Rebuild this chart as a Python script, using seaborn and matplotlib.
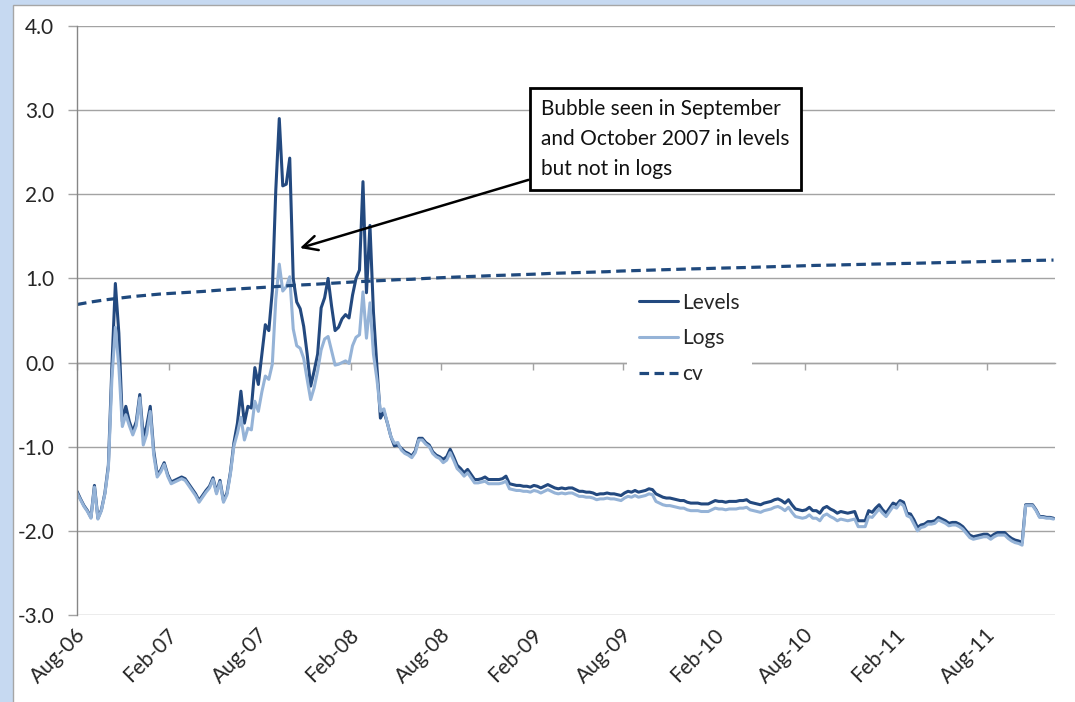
import numpy as np
import pandas as pd
import matplotlib.pyplot as plt
import matplotlib.dates as mdates
import matplotlib.patches as mpatches
import matplotlib.transforms as mtransforms
import seaborn as sns

# weekly series, starting 1 Aug 2006
levels = [
    -1.53, -1.62, -1.70, -1.76, -1.84, -1.46, -1.85, -1.75, -1.55, -1.22,
    -0.05, 0.94, 0.35, -0.70, -0.52, -0.70, -0.82, -0.70, -0.38, -0.88,
    -0.75, -0.52, -1.05, -1.33, -1.28, -1.19, -1.33, -1.42, -1.40, -1.38,
    -1.36, -1.38, -1.44, -1.50, -1.56, -1.64, -1.58, -1.52, -1.47, -1.37,
    -1.54, -1.40, -1.64, -1.55, -1.30, -0.95, -0.72, -0.34, -0.72, -0.52,
    -0.54, -0.06, -0.26, 0.10, 0.45, 0.38, 0.85, 2.05, 2.90, 2.10,
    2.12, 2.43, 1.00, 0.72, 0.64, 0.43, 0.10, -0.28, -0.10, 0.10,
    0.65, 0.77, 1.00, 0.67, 0.38, 0.42, 0.52, 0.57, 0.53, 0.80,
    1.00, 1.10, 2.15, 0.83, 1.63, 0.60, -0.05, -0.66, -0.58, -0.72,
    -0.88, -0.99, -0.98, -1.02, -1.06, -1.08, -1.11, -1.05, -0.90, -0.90,
    -0.95, -0.98, -1.06, -1.10, -1.12, -1.15, -1.12, -1.03, -1.12, -1.22,
    -1.26, -1.31, -1.27, -1.33, -1.39, -1.39, -1.38, -1.36, -1.39, -1.39,
    -1.39, -1.39, -1.38, -1.35, -1.44, -1.45, -1.46, -1.46, -1.47, -1.47,
    -1.48, -1.46, -1.47, -1.49, -1.47, -1.45, -1.47, -1.49, -1.50, -1.49,
    -1.50, -1.49, -1.49, -1.51, -1.53, -1.53, -1.54, -1.54, -1.55, -1.57,
    -1.56, -1.56, -1.55, -1.56, -1.56, -1.57, -1.58, -1.55, -1.53, -1.54,
    -1.52, -1.54, -1.53, -1.52, -1.50, -1.51, -1.56, -1.58, -1.60, -1.61,
    -1.61, -1.62, -1.63, -1.64, -1.64, -1.66, -1.67, -1.67, -1.67, -1.68,
    -1.68, -1.68, -1.66, -1.64, -1.65, -1.65, -1.66, -1.65, -1.65, -1.65,
    -1.64, -1.64, -1.63, -1.66, -1.67, -1.68, -1.69, -1.67, -1.66, -1.65,
    -1.63, -1.62, -1.64, -1.67, -1.63, -1.69, -1.74, -1.75, -1.76, -1.75,
    -1.72, -1.76, -1.76, -1.79, -1.73, -1.71, -1.74, -1.76, -1.79, -1.77,
    -1.78, -1.79, -1.78, -1.77, -1.88, -1.88, -1.88, -1.76, -1.78, -1.73,
    -1.69, -1.75, -1.79, -1.73, -1.67, -1.69, -1.64, -1.66, -1.79, -1.80,
    -1.87, -1.96, -1.93, -1.92, -1.89, -1.89, -1.88, -1.84, -1.86, -1.88,
    -1.91, -1.90, -1.90, -1.92, -1.95, -2.00, -2.05, -2.07, -2.06, -2.05,
    -2.04, -2.04, -2.07, -2.04, -2.02, -2.02, -2.02, -2.06, -2.09, -2.11,
    -2.12, -2.14, -1.69, -1.69, -1.69, -1.75, -1.83, -1.83, -1.84, -1.84, -1.85,
]
logs = [
    -1.55, -1.63, -1.71, -1.77, -1.85, -1.48, -1.86, -1.76, -1.56, -1.25,
    -0.20, 0.42, -0.05, -0.76, -0.62, -0.75, -0.86, -0.75, -0.42, -0.98,
    -0.85, -0.58, -1.10, -1.36, -1.30, -1.21, -1.35, -1.44, -1.42, -1.40,
    -1.38, -1.40, -1.46, -1.52, -1.58, -1.66, -1.60, -1.54, -1.49, -1.39,
    -1.56, -1.42, -1.66, -1.57, -1.32, -0.99, -0.84, -0.65, -0.92, -0.78,
    -0.80, -0.46, -0.58, -0.35, -0.16, -0.20, -0.02, 0.75, 1.17, 0.85,
    0.90, 1.02, 0.40, 0.20, 0.17, 0.05, -0.20, -0.44, -0.30, -0.10,
    0.15, 0.28, 0.31, 0.14, -0.03, -0.02, 0.00, 0.02, -0.01, 0.20,
    0.30, 0.33, 0.84, 0.29, 0.71, 0.10, -0.20, -0.58, -0.55, -0.72,
    -0.88, -0.96, -0.95, -1.04, -1.08, -1.10, -1.13, -1.07, -0.92, -0.92,
    -0.97, -1.00, -1.08, -1.12, -1.14, -1.19, -1.16, -1.07, -1.16, -1.26,
    -1.30, -1.35, -1.31, -1.37, -1.43, -1.43, -1.42, -1.41, -1.44, -1.44,
    -1.44, -1.44, -1.43, -1.41, -1.50, -1.51, -1.52, -1.52, -1.53, -1.53,
    -1.54, -1.52, -1.53, -1.55, -1.53, -1.51, -1.53, -1.55, -1.56, -1.55,
    -1.56, -1.55, -1.55, -1.57, -1.59, -1.59, -1.60, -1.60, -1.61, -1.63,
    -1.62, -1.62, -1.61, -1.62, -1.62, -1.63, -1.64, -1.61, -1.59, -1.60,
    -1.58, -1.60, -1.59, -1.58, -1.56, -1.57, -1.65, -1.67, -1.69, -1.70,
    -1.70, -1.71, -1.72, -1.73, -1.73, -1.75, -1.76, -1.76, -1.76, -1.77,
    -1.77, -1.77, -1.75, -1.73, -1.74, -1.74, -1.75, -1.74, -1.74, -1.74,
    -1.73, -1.73, -1.72, -1.75, -1.76, -1.77, -1.78, -1.76, -1.75, -1.74,
    -1.72, -1.71, -1.73, -1.76, -1.72, -1.78, -1.83, -1.84, -1.85, -1.84,
    -1.81, -1.85, -1.85, -1.88, -1.82, -1.80, -1.83, -1.85, -1.88, -1.86,
    -1.87, -1.88, -1.87, -1.86, -1.95, -1.95, -1.95, -1.83, -1.84, -1.79,
    -1.74, -1.79, -1.83, -1.77, -1.71, -1.73, -1.67, -1.70, -1.82, -1.84,
    -1.92, -2.00, -1.96, -1.95, -1.92, -1.92, -1.91, -1.87, -1.89, -1.91,
    -1.94, -1.93, -1.93, -1.95, -1.98, -2.03, -2.08, -2.10, -2.09, -2.08,
    -2.07, -2.07, -2.10, -2.07, -2.05, -2.05, -2.05, -2.09, -2.12, -2.14,
    -2.15, -2.17, -1.70, -1.70, -1.70, -1.76, -1.84, -1.84, -1.85, -1.85, -1.86,
]
# cv, every fourth week
cv = [
    0.69, 0.72, 0.745, 0.765, 0.785, 0.80, 0.815, 0.825, 0.835, 0.845,
    0.858, 0.87, 0.88, 0.89, 0.90, 0.912, 0.922, 0.93, 0.94, 0.95,
    0.96, 0.968, 0.976, 0.985, 0.99, 1.00, 1.008, 1.015, 1.022, 1.028,
    1.035, 1.04, 1.046, 1.052, 1.06, 1.065, 1.07, 1.075, 1.08, 1.088,
    1.093, 1.098, 1.103, 1.108, 1.113, 1.117, 1.122, 1.126, 1.13, 1.135,
    1.14, 1.145, 1.15, 1.155, 1.158, 1.162, 1.166, 1.17, 1.173, 1.177,
    1.18, 1.184, 1.188, 1.192, 1.196, 1.20, 1.204, 1.208, 1.212, 1.215,
    1.218,
]

weeks = pd.date_range("2006-08-01", periods=len(levels), freq="7D")
cv_dates = weeks[::4]
tick_dates = pd.date_range("2006-08-01", "2011-08-01", freq="6MS")
tick_labels = [d.strftime("%b-%y") for d in tick_dates]
y_ticks = np.arange(-3, 5)

note = "Bubble seen in September\nand October 2007 in levels\nbut not in logs"
FS = 15

sns.set_theme(style="whitegrid")
plt.rcParams['font.family'] = ['Lato', 'DejaVu Sans']

fig = plt.figure(figsize=(10.75, 7.02), dpi=100, facecolor="#c6d9f1")
panel = mpatches.Rectangle((13 / 1075, -0.01), 1.0, (697 / 702) + 0.01,
                           transform=fig.transFigure, facecolor="white",
                           edgecolor="#a6a6a6", lw=1, zorder=-10)
fig.add_artist(panel)
ax = fig.add_axes([77 / 1075, 87 / 702, 978 / 1075, 589 / 702])
ax.set_facecolor("none")

df = pd.DataFrame({"date": weeks, "Levels": levels, "Logs": logs})
df_cv = pd.DataFrame({"date": cv_dates, "cv": cv})

sns.lineplot(data=df, x="date", y="Levels", ax=ax, color="#23497f", lw=2.2, label="Levels")
sns.lineplot(data=df, x="date", y="Logs", ax=ax, color="#95b3d7", lw=2.2, label="Logs")
sns.lineplot(data=df_cv, x="date", y="cv", ax=ax, color="#1f497d", lw=2.3,
             ls=(0, (3, 1.7)), label="cv")

ax.set_xlim(weeks[0], weeks[-1] + pd.Timedelta(days=3))
ax.set_ylim(y_ticks[0], y_ticks[-1])
ax.set_xlabel("")
ax.set_ylabel("")

# y axis
ax.set_yticks(y_ticks)
ax.set_yticklabels([f"{v:.1f}" for v in y_ticks])
ax.yaxis.grid(True, color="#a3a3a3", lw=1)
ax.xaxis.grid(False)
for s in ["top", "right", "bottom"]:
    ax.spines[s].set_visible(False)
ax.spines["left"].set_color("#868686")
ax.spines["left"].set_linewidth(1)
ax.tick_params(axis="y", direction="out", length=6.5, width=1, color="#a3a3a3",
               pad=10, labelsize=FS, labelcolor="#262626", left=True)

# date labels at the bottom
ax.set_xticks(mdates.date2num(tick_dates))
ax.set_xticklabels(tick_labels, rotation=45, ha="right", va="center",
                   rotation_mode="anchor")
ax.tick_params(axis="x", length=0, pad=12, labelsize=FS, labelcolor="#262626")
shift = mtransforms.ScaledTranslation(4 / 72, 0, fig.dpi_scale_trans)
for lab in ax.get_xticklabels():
    lab.set_transform(lab.get_transform() + shift)

# category axis crossing at zero, with small tick marks
zero_loc = (0 - y_ticks[0]) / (y_ticks[-1] - y_ticks[0])
sec = ax.secondary_xaxis(zero_loc)
sec.set_alignment("bottom")
sec.set_xticks(mdates.date2num(tick_dates))
sec.set_xticklabels([])
sec.spines["bottom"].set_color("#a3a3a3")
sec.spines["bottom"].set_linewidth(1)
sec.tick_params(axis="x", direction="out", length=5, width=1, color="#a3a3a3")

leg = ax.legend(loc="center", bbox_to_anchor=(0.626, 0.470), frameon=True,
                facecolor="white", edgecolor="none", framealpha=1, fontsize=FS,
                handlelength=1.85, handletextpad=0.2, labelspacing=0.75,
                borderpad=0.6, fancybox=False)
leg.set_zorder(5)

ax.annotate(note, xy=(0.228, 0.623), xycoords="axes fraction",
            xytext=(0.4744, 0.808), textcoords="axes fraction",
            ha="left", va="center", fontsize=FS, linespacing=1.6, color="#111111",
            bbox=dict(boxstyle="square,pad=0.55", fc="white", ec="black", lw=2),
            arrowprops=dict(arrowstyle="->,head_length=0.7,head_width=0.35",
                            color="black", lw=1.8, shrinkA=0, shrinkB=0),
            zorder=6)

plt.savefig("out.png", dpi=100, facecolor=fig.get_facecolor())
